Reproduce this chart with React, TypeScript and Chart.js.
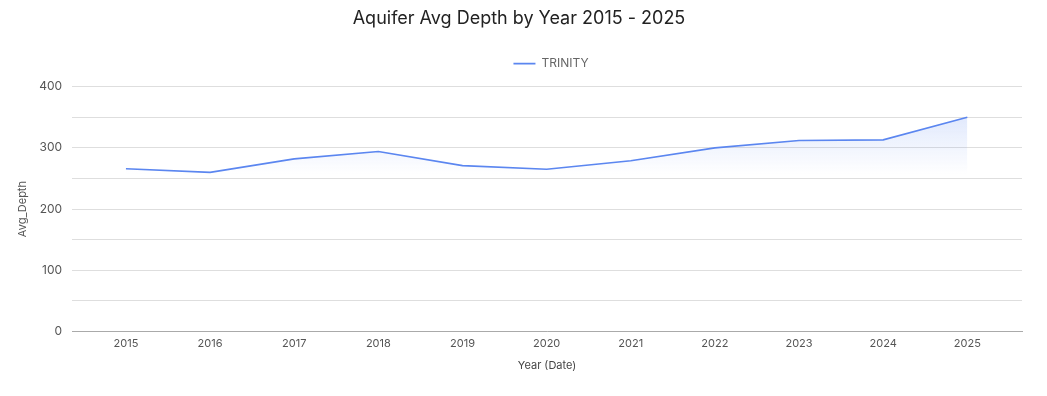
import React, { useEffect, useRef } from 'react';
import { Chart, registerables } from 'chart.js';

Chart.register(...registerables);

const years = [2015, 2016, 2017, 2018, 2019, 2020, 2021, 2022, 2023, 2024, 2025];
const depth = [266, 260, 282, 294, 271, 265, 279, 300, 312, 313, 350];
const seriesName = 'TRINITY';
const titleText = 'Aquifer Avg Depth by Year 2015 - 2025';
const xTitle = 'Year (Date)';
const yTitle = 'Avg_Depth';

const FONT = 'Inter, "Noto Sans", sans-serif';
const LINE = '#5b86f0';

const legendTweak = {
  id: 'legendTweak',
  beforeInit(chart: any) {
    const legend = chart.legend;
    if (!legend) return;
    const orig = legend.fit;
    legend.fit = function () {
      orig.call(this);
      this.height += 7;
    };
  },
  afterLayout(chart: any) {
    const legend = chart.legend;
    if (!legend) return;
    legend.left += 32;
    legend.right += 32;
  },
};

export default function App() {
  const ref = useRef<HTMLCanvasElement | null>(null);

  useEffect(() => {
    if (!ref.current) return;
    const chart = new Chart(ref.current, {
      type: 'line',
      plugins: [legendTweak],
      data: {
        datasets: [
          {
            label: seriesName,
            data: years.map((y, i) => ({ x: y, y: depth[i] })),
            borderColor: LINE,
            borderWidth: 1.6,
            pointRadius: 0,
            pointHoverRadius: 0,
            tension: 0,
            fill: 'origin',
            backgroundColor: (ctx: any) => {
              const chart = ctx.chart;
              const { chartArea, scales } = chart;
              if (!chartArea) return 'rgba(0,0,0,0)';
              const top = scales.y.getPixelForValue(Math.max(...depth));
              const bottom = scales.y.getPixelForValue(Math.min(...depth)) + 2;
              const g = chart.ctx.createLinearGradient(0, top, 0, bottom);
              g.addColorStop(0, 'rgba(91,134,240,0.18)');
              g.addColorStop(1, 'rgba(91,134,240,0)');
              return g;
            },
          },
        ],
      },
      options: {
        animation: false,
        responsive: true,
        maintainAspectRatio: false,
        layout: { padding: { top: 0, right: 17, bottom: 16, left: 8 } },
        plugins: {
          title: {
            display: true,
            text: titleText,
            color: '#222',
            font: { family: FONT, size: 18, weight: 'normal' },
            padding: { top: 0, bottom: 18 },
          },
          legend: {
            display: true,
            position: 'top',
            labels: {
              usePointStyle: true,
              pointStyle: 'line',
              pointStyleWidth: 22,
              color: '#666',
              font: { family: FONT, size: 12 },
              padding: 10,
            },
          },
          tooltip: { enabled: false },
        },
        scales: {
          x: {
            type: 'linear',
            min: 2014.36,
            max: 2025.65,
            afterBuildTicks: (scale: any) => {
              scale.ticks = years.map((v) => ({ value: v }));
            },
            grid: { display: false, drawTicks: false },
            border: { display: true, color: '#aaa' },
            ticks: {
              color: '#555',
              font: { family: FONT, size: 11 },
              padding: 5,
              maxRotation: 0,
              callback: (v: any) => String(v),
            },
            title: {
              display: true,
              text: xTitle,
              color: '#444',
              font: { family: FONT, size: 11 },
              padding: { top: 4, bottom: 0 },
            },
          },
          y: {
            min: 0,
            max: 400,
            ticks: {
              stepSize: 50,
              color: '#555',
              font: { family: FONT, size: 12 },
              padding: 10,
              callback: (v: any) => (Number(v) % 100 === 0 ? String(v) : ''),
            },
            grid: { color: '#dedede', drawTicks: false },
            border: { display: false },
            title: {
              display: true,
              text: yTitle,
              color: '#555',
              font: { family: FONT, size: 11 },
              padding: { top: 0, bottom: 0 },
            },
          },
        },
      },
    });
    return () => chart.destroy();
  }, []);

  return (
    <div style={{ width: 1031, height: 380, position: 'relative' }}>
      <canvas ref={ref} />
    </div>
  );
}
